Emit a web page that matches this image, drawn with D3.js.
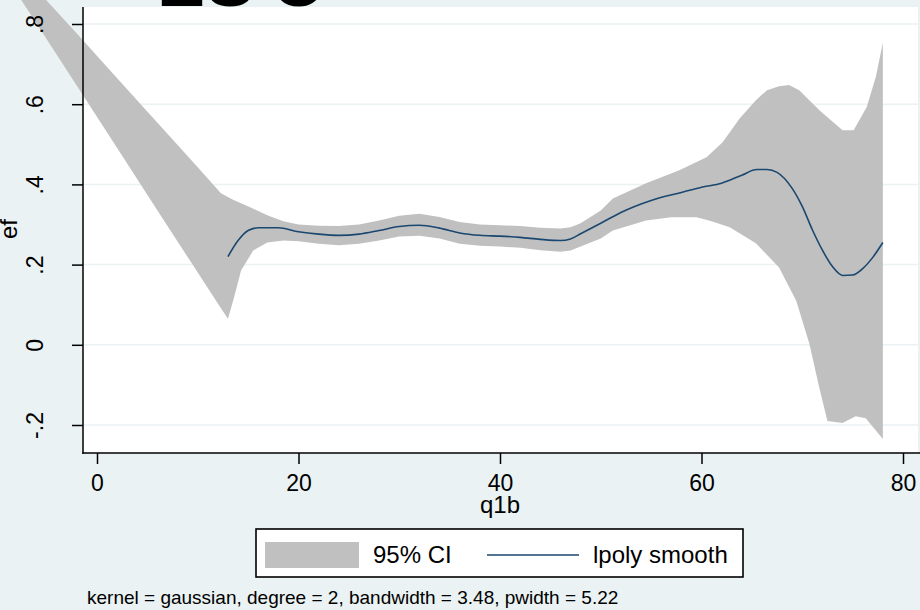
<!DOCTYPE html>
<html>
<head>
<meta charset="utf-8">
<script src="https://cdn.jsdelivr.net/npm/d3@7"></script>
<style>
  body { margin: 0; background: #eaf2f3; }
  text { font-family: "Liberation Sans", Arial, sans-serif; fill: #000; }
</style>
</head>
<body>
<svg id="chart" width="920" height="610"></svg>
<script>
// lpoly fit of ef on q1b
var fitX = [13, 14, 15, 16, 18, 20, 22, 24, 26, 28, 30, 32, 34, 36, 38, 40, 42, 44, 46, 47, 48, 50, 52, 55, 58, 60, 62, 64, 65.5, 66.5, 67.5, 69, 70, 71, 72, 73, 74, 75, 76, 77, 78];
var fitY = [0.22, 0.26, 0.285, 0.292, 0.292, 0.282, 0.276, 0.273, 0.276, 0.285, 0.295, 0.298, 0.291, 0.279, 0.273, 0.271, 0.268, 0.263, 0.26, 0.264, 0.277, 0.303, 0.33, 0.36, 0.38, 0.393, 0.403, 0.423, 0.437, 0.437, 0.43, 0.39, 0.345, 0.287, 0.236, 0.195, 0.173, 0.174, 0.19, 0.218, 0.255];

// 95% CI band, upper and lower edges
var ciHiX = [-9, -6, -2, 2, 6, 10, 12.3, 13.5, 15.2, 16.9, 18.5, 20, 22, 24, 26, 28, 30, 32, 34, 36, 38, 40, 42, 44, 46, 47, 48, 50, 51.2, 54.5, 57.8, 60.5, 62.1, 63.8, 65.4, 66.5, 67.7, 68.7, 69.7, 71.7, 74, 75.1, 76.4, 77.3, 78];
var ciHi = [0.969, 0.886, 0.776, 0.665, 0.554, 0.443, 0.378, 0.362, 0.343, 0.323, 0.308, 0.3, 0.297, 0.296, 0.3, 0.31, 0.322, 0.327, 0.319, 0.306, 0.3, 0.298, 0.296, 0.292, 0.29, 0.293, 0.303, 0.335, 0.365, 0.403, 0.435, 0.468, 0.505, 0.565, 0.61, 0.635, 0.645, 0.648, 0.635, 0.585, 0.535, 0.535, 0.593, 0.668, 0.753];
var ciLoX = [-9, -6, -2, 2, 6, 10, 12.3, 13, 13.6, 14.3, 15.5, 16.9, 18.5, 20, 22, 24, 26, 28, 30, 32, 34, 36, 38, 40, 42, 44, 46, 47, 48, 50, 51.2, 54.5, 57, 59.5, 61, 62.8, 65.4, 67.7, 69.4, 70.7, 71.7, 72.5, 74, 75.3, 76.3, 78];
var ciLo = [0.917, 0.801, 0.646, 0.491, 0.335, 0.18, 0.091, 0.065, 0.118, 0.185, 0.235, 0.255, 0.26, 0.258, 0.252, 0.248, 0.252, 0.26, 0.27, 0.272, 0.265, 0.252, 0.247, 0.245, 0.242, 0.236, 0.232, 0.235, 0.245, 0.265, 0.285, 0.31, 0.318, 0.318, 0.308, 0.293, 0.253, 0.193, 0.11, 0.003, -0.108, -0.19, -0.195, -0.178, -0.183, -0.235];

var xTicks = [0, 20, 40, 60, 80];
var yTicks = [-0.2, 0, 0.2, 0.4, 0.6, 0.8];
var yTickLabels = ["-.2", "0", ".2", ".4", ".6", ".8"];

var svg = d3.select("#chart");

var plotLeft = 83, plotTop = 7, plotRight = 918, plotBottom = 453;

var x = d3.scaleLinear().domain([0, 80]).range([97, 903]);
var y = d3.scaleLinear().domain([-0.2, 0.8]).range([425, 24]);

var line = d3.line()
    .x(function(d) { return x(d[0]); })
    .y(function(d) { return y(d[1]); });

// outer region
svg.append("rect")
    .attr("width", 920).attr("height", 610)
    .attr("fill", "#eaf2f3");

// title, mostly cut off at the top
svg.append("text")
    .attr("y", 6)
    .attr("font-size", 72)
    .attr("font-weight", "bold")
    .selectAll("tspan")
    .data(["E", "S", "C"])
    .enter().append("tspan")
    .attr("x", function(d, i) { return [157, 206, 271][i]; })
    .text(function(d) { return d; });

// plot region
svg.append("rect")
    .attr("x", plotLeft).attr("y", plotTop)
    .attr("width", plotRight - plotLeft).attr("height", plotBottom - plotTop)
    .attr("fill", "#fff");

// gridlines
svg.append("g")
    .selectAll("line")
    .data(yTicks)
    .enter().append("line")
    .attr("x1", plotLeft).attr("x2", 920)
    .attr("y1", function(d) { return y(d); })
    .attr("y2", function(d) { return y(d); })
    .attr("stroke", "#eaf2f3")
    .attr("stroke-width", 1.5);

// CI band: upper edge left to right, then lower edge back
var bandPts = ciHiX.map(function(v, i) { return [v, ciHi[i]]; })
    .concat(ciLoX.map(function(v, i) { return [v, ciLo[i]]; }).reverse());

svg.append("path")
    .datum(bandPts)
    .attr("fill", "#c0c0c0")
    .attr("stroke", "none")
    .attr("d", function(d) { return line(d) + "Z"; });

// fitted line
svg.append("path")
    .datum(fitX.map(function(v, i) { return [v, fitY[i]]; }))
    .attr("fill", "none")
    .attr("stroke", "#1a476f")
    .attr("stroke-width", 1.6)
    .attr("d", d3.line()
        .curve(d3.curveMonotoneX)
        .x(function(d) { return x(d[0]); })
        .y(function(d) { return y(d[1]); }));

// axes
var yAxis = svg.append("g")
    .attr("transform", "translate(" + plotLeft + ",0)")
    .call(d3.axisLeft(y)
        .tickValues(yTicks)
        .tickSize(11)
        .tickFormat(function(d, i) { return yTickLabels[i]; }));
yAxis.select(".domain").remove();
yAxis.selectAll(".tick line").attr("stroke", "#000").attr("stroke-width", 1.5);
yAxis.selectAll(".tick text")
    .attr("x", 0).attr("y", -40).attr("dy", 0)
    .attr("transform", "rotate(-90)")
    .attr("text-anchor", "middle")
    .attr("font-size", 23)
    .attr("font-family", null);

var xAxis = svg.append("g")
    .attr("transform", "translate(0," + plotBottom + ")")
    .call(d3.axisBottom(x)
        .tickValues(xTicks)
        .tickSize(11)
        .tickFormat(d3.format("d")));
xAxis.select(".domain").remove();
xAxis.selectAll(".tick line").attr("stroke", "#000").attr("stroke-width", 1.5);
xAxis.selectAll(".tick text")
    .attr("y", 38).attr("dy", 0)
    .attr("font-size", 23)
    .attr("font-family", null);

svg.append("line")
    .attr("x1", plotLeft).attr("x2", plotLeft)
    .attr("y1", plotTop).attr("y2", plotBottom + 0.75)
    .attr("stroke", "#000").attr("stroke-width", 1.5);
svg.append("line")
    .attr("x1", plotLeft - 0.75).attr("x2", 920)
    .attr("y1", plotBottom).attr("y2", plotBottom)
    .attr("stroke", "#000").attr("stroke-width", 1.5);

// axis titles
svg.append("text")
    .attr("transform", "translate(17,229) rotate(-90)")
    .attr("text-anchor", "middle")
    .attr("font-size", 24)
    .text("ef");
svg.append("text")
    .attr("x", x(40)).attr("y", 513)
    .attr("text-anchor", "middle")
    .attr("font-size", 24)
    .text("q1b");

// legend
var legend = svg.append("g");
legend.append("rect")
    .attr("x", 256).attr("y", 529)
    .attr("width", 487).attr("height", 48)
    .attr("fill", "#fff")
    .attr("stroke", "#000").attr("stroke-width", 1.6);
legend.append("rect")
    .attr("x", 265).attr("y", 542)
    .attr("width", 94).attr("height", 26)
    .attr("fill", "#c0c0c0");
legend.append("text")
    .attr("x", 373).attr("y", 563)
    .attr("font-size", 24)
    .text("95% CI");
legend.append("line")
    .attr("x1", 487).attr("x2", 579)
    .attr("y1", 555).attr("y2", 555)
    .attr("stroke", "#1a476f").attr("stroke-width", 1.6);
legend.append("text")
    .attr("x", 593).attr("y", 563)
    .attr("font-size", 24)
    .text("lpoly smooth");

// note
svg.append("text")
    .attr("x", 87).attr("y", 604)
    .attr("font-size", 19)
    .text("kernel = gaussian, degree = 2, bandwidth = 3.48, pwidth = 5.22");
</script>
</body>
</html>
